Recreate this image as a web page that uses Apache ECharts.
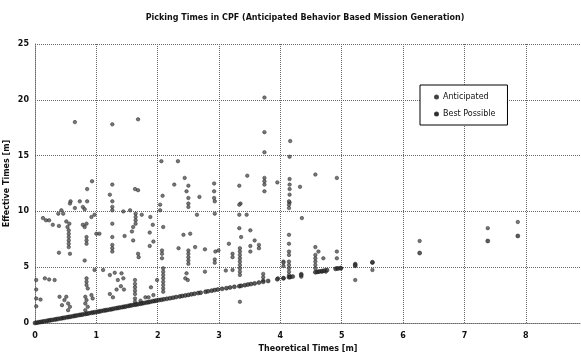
<!DOCTYPE html>
<html>
<head>
<meta charset="utf-8">
<script src="https://cdn.jsdelivr.net/npm/echarts@6/dist/echarts.min.js"></script>
<style>
  html, body { margin: 0; padding: 0; background: #fff; }
  #chart { width: 581px; height: 357px; }
</style>
</head>
<body>
<div id="chart"></div>
<script>
// [theoretical, effective] in minutes
const anticipated = [
  [0.65,18.0],[1.26,17.8],[1.68,18.25],[3.74,20.2],[3.74,17.1],[4.16,16.3],[3.74,15.3],[4.15,14.9],
  [2.06,14.5],[2.33,14.5],[2.44,13.0],[2.27,12.4],[2.50,12.3],[2.47,11.8],[2.08,11.4],[2.50,11.2],[2.68,11.3],
  [2.92,12.5],[2.92,11.8],[2.92,11.2],[3.46,13.2],[3.33,12.3],[3.74,13.0],[3.74,12.7],[3.74,12.4],[3.74,11.8],[3.95,12.6],
  [4.15,12.9],[4.15,12.4],[4.15,12.0],[4.15,11.5],[4.15,10.8],[4.32,12.2],[4.57,13.3],[4.92,13.0],[3.35,10.7],
  [0.93,12.7],[0.85,12.0],[1.26,12.4],[1.22,11.5],[1.63,12.0],[1.68,11.9],[0.85,10.9],[0.73,10.9],[0.58,10.9],[1.26,10.9],
  [0.57,10.7],[0.78,10.4],[0.81,10.2],[1.26,10.4],[1.26,10.1],[0.65,10.3],[0.43,10.1],[0.46,9.8],[0.38,9.8],
  [0.13,9.4],[0.18,9.2],[0.23,9.2],[0.29,8.8],[0.39,8.7],[0.51,9.1],[0.56,8.9],[0.53,8.6],
  [0.55,8.3],[0.55,8.0],[0.55,7.7],[0.55,7.4],[0.55,7.1],[0.55,6.8],
  [0.84,8.9],[0.81,8.6],[0.78,8.8],[0.92,9.5],[0.97,9.7],[0.84,7.7],[0.84,7.4],[0.84,7.1],[1.0,8.0],[1.05,8.0],
  [1.26,8.9],[1.26,7.7],[1.26,7.0],[1.26,6.7],[1.26,6.4],[0.39,6.3],[0.57,6.2],[0.81,5.6],
  [1.46,7.8],[1.60,7.4],[1.58,8.2],[1.68,6.2],[1.69,5.9],[1.87,8.1],[1.87,6.9],[1.93,7.3],[1.92,8.8],[1.88,9.5],
  [1.64,9.8],[1.64,9.5],[1.64,9.2],[1.64,8.9],[1.60,8.6],[1.74,9.7],[1.44,10.0],[1.55,10.1],
  [0.02,3.85],[0.02,3.0],[0.02,2.2],[0.02,1.5],[0.16,4.0],[0.23,3.9],[0.32,3.85],[0.09,2.1],
  [0.40,2.35],[0.51,2.35],[0.48,2.05],[0.54,1.75],[0.54,1.15],[0.57,1.45],[0.44,1.6],
  [0.84,4.0],[0.84,3.7],[0.84,3.4],[0.86,3.1],[0.82,2.35],[0.84,2.05],[0.82,1.75],[0.86,1.45],[0.82,1.15],[0.92,2.5],[0.94,2.2],
  [0.97,4.75],[1.11,4.75],[1.22,4.3],[1.30,4.5],[1.41,4.45],[1.44,4.0],[1.35,3.85],
  [1.22,2.6],[1.27,2.3],[1.33,3.0],[1.40,3.3],[1.45,3.0],
  [1.63,3.85],[1.63,3.5],[1.63,3.2],[1.63,2.9],[1.63,2.6],[1.63,2.2],[1.63,1.9],[1.72,2.0],[1.80,2.3],[1.85,2.3],[1.93,2.5],[1.89,3.2],
  [2.04,10.1],[2.04,10.6],[2.50,10.7],[2.50,10.4],[2.64,9.7],[2.93,10.9],[2.93,9.8],[3.33,10.6],[3.33,9.7],[3.45,9.7],
  [2.09,8.6],[2.42,7.9],[2.53,8.0],[3.33,8.5],[3.36,7.7],[3.51,8.3],[3.58,7.4],[3.65,7.0],[3.16,7.1],
  [2.34,6.7],[2.61,6.8],[2.77,6.6],[2.50,6.5],[2.50,6.2],[2.50,5.9],[2.50,5.6],[2.50,5.3],[2.07,6.5],[2.07,6.2],[2.07,5.8],
  [2.94,6.4],[2.99,6.5],[2.93,5.7],[2.93,5.4],[3.22,6.2],[3.22,5.9],
  [3.34,6.7],[3.34,6.4],[3.34,6.1],[3.34,5.8],[3.34,5.5],[3.34,5.2],[3.34,4.9],[3.34,4.6],[3.34,4.3],
  [3.51,6.9],[3.65,6.7],[3.51,6.4],
  [2.09,4.9],[2.09,4.6],[2.09,4.3],[2.09,4.0],[2.09,3.7],[2.09,3.4],[2.09,3.1],[2.09,2.8],
  [2.77,4.6],[2.47,4.45],[2.49,3.85],[2.45,4.0],[3.11,4.7],[3.22,4.75],[1.99,3.85],[3.34,1.9],
  [3.72,4.4],[3.72,4.1],[3.72,3.8],[4.05,5.5],[4.05,4.0],
  [4.14,10.9],[4.14,10.6],[4.14,10.3],[4.35,9.4],[4.14,7.9],[4.14,7.1],[4.14,6.4],[4.14,6.1],
  [4.14,5.5],[4.14,5.2],[4.14,4.9],[4.14,4.6],[4.14,4.3],[4.05,5.4],[4.05,5.1],[3.96,4.0],[4.34,4.4],[4.34,4.15],
  [4.57,6.8],[4.62,6.4],[4.70,5.8],[4.57,6.1],[4.57,5.8],[4.57,5.5],[4.57,5.2],[4.57,4.9],[4.62,4.6],[4.68,4.6],[4.74,4.6],
  [4.92,6.4],[4.92,5.8],[4.92,4.9],[4.99,4.9],[5.22,5.3],[5.22,5.1],[5.22,3.85],[5.50,5.4],[5.50,4.75],
  [6.27,7.35],[7.38,8.5],[7.87,9.05]
];

const bestPossible = [
  [0.00,0.00],[0.03,0.03],[0.06,0.06],[0.09,0.09],[0.12,0.12],[0.15,0.15],[0.19,0.19],[0.22,0.22],
  [0.25,0.25],[0.28,0.28],[0.32,0.31],[0.35,0.34],[0.38,0.37],[0.42,0.41],[0.45,0.44],[0.48,0.47],
  [0.52,0.51],[0.55,0.54],[0.58,0.57],[0.62,0.61],[0.65,0.64],[0.68,0.67],[0.72,0.71],[0.75,0.74],
  [0.78,0.77],[0.82,0.81],[0.85,0.84],[0.88,0.87],[0.92,0.91],[0.95,0.94],[0.98,0.97],[1.02,1.01],
  [1.05,1.04],[1.08,1.07],[1.12,1.11],[1.15,1.14],[1.18,1.17],[1.22,1.21],[1.25,1.24],[1.28,1.28],
  [1.32,1.32],[1.35,1.35],[1.38,1.38],[1.42,1.42],[1.45,1.45],[1.48,1.48],[1.52,1.53],[1.55,1.56],
  [1.58,1.59],[1.62,1.63],[1.65,1.66],[1.68,1.69],[1.72,1.73],[1.75,1.76],[1.78,1.80],[1.82,1.84],
  [1.85,1.87],[1.88,1.90],[1.92,1.95],[1.95,1.98],[1.98,2.02],[2.02,2.05],[2.06,2.08],[2.10,2.12],
  [2.15,2.17],[2.20,2.22],[2.25,2.27],[2.30,2.32],[2.36,2.38],[2.40,2.42],[2.45,2.47],[2.50,2.52],
  [2.55,2.57],[2.60,2.62],[2.66,2.68],[2.70,2.72],[2.78,2.80],[2.82,2.84],[2.88,2.90],[2.93,2.95],
  [2.98,3.00],[3.05,3.06],[3.12,3.12],[3.18,3.18],[3.25,3.24],[3.33,3.30],[3.36,3.33],[3.42,3.39],
  [3.47,3.44],[3.52,3.49],[3.58,3.55],[3.65,3.62],[3.72,3.69],[3.80,3.77],[3.95,3.92],[4.05,4.02],
  [4.14,4.10],[4.16,4.12],[4.20,4.16],[4.34,4.30],[4.57,4.55],[4.60,4.58],[4.64,4.62],[4.68,4.66],
  [4.72,4.70],[4.76,4.74],[4.90,4.85],[4.94,4.88],[4.98,4.92],[5.22,5.20],[5.50,5.45],
  [6.27,6.27],[7.38,7.35],[7.87,7.80]
];

const FONT = '"DejaVu Sans", Verdana, sans-serif';
const gridLine = { type: 'dotted', color: '#666', width: 1 };

const chart = echarts.init(document.getElementById('chart'));
chart.setOption({
  backgroundColor: '#fff',
  animation: false,
  title: {
    text: 'Picking Times in CPF (Anticipated Behavior Based Mission Generation)',
    left: 300, textAlign: 'center', top: 9,
    textStyle: { fontFamily: FONT, fontSize: 8, fontWeight: 'bold', color: '#111' }
  },
  legend: {
    orient: 'vertical',
    left: 420, top: 85,
    padding: [8, 12, 7, 14],
    itemGap: 9,
    itemWidth: 3, itemHeight: 3,
    borderColor: '#000', borderWidth: 1,
    backgroundColor: '#fff',
    textStyle: { fontFamily: FONT, fontSize: 8, color: '#111' },
    data: [
      { name: 'Anticipated', icon: 'circle', itemStyle: { color: '#555' } },
      { name: 'Best Possible', icon: 'circle', itemStyle: { color: '#333' } }
    ]
  },
  grid: { left: 35, top: 44, right: 0, height: 279, outerBoundsMode: 'none', containLabel: false },
  xAxis: {
    type: 'value', min: 0, max: 8.9, interval: 1,
    name: 'Theoretical Times [m]', nameLocation: 'middle', nameGap: 22, nameMoveOverlap: false,
    nameTextStyle: { fontFamily: FONT, fontSize: 8, fontWeight: 'bold', color: '#111' },
    axisLine: { lineStyle: gridLine },
    axisTick: { show: false },
    axisLabel: { fontFamily: FONT, fontSize: 8, fontWeight: 'bold', color: '#111', margin: 9, showMaxLabel: false },
    splitLine: { show: true, lineStyle: gridLine }
  },
  yAxis: {
    type: 'value', min: 0, max: 25, interval: 5,
    name: 'Effective Times [m]', nameLocation: 'middle', nameGap: 24, nameMoveOverlap: false,
    nameTextStyle: { fontFamily: FONT, fontSize: 8, fontWeight: 'bold', color: '#111' },
    axisLine: { show: true, lineStyle: gridLine },
    axisTick: { show: false },
    axisLabel: { fontFamily: FONT, fontSize: 8, fontWeight: 'bold', color: '#111', margin: 6 },
    splitLine: { show: true, lineStyle: gridLine }
  },
  series: [
    {
      name: 'Anticipated', type: 'scatter', data: anticipated,
      symbol: 'circle', symbolSize: 3.5,
      itemStyle: { color: '#555', borderColor: '#222', borderWidth: 0.6 }
    },
    {
      name: 'Best Possible', type: 'scatter', data: bestPossible,
      symbol: 'circle', symbolSize: 4,
      itemStyle: { color: '#333', borderColor: '#111', borderWidth: 0.6 }
    }
  ]
});
</script>
</body>
</html>
